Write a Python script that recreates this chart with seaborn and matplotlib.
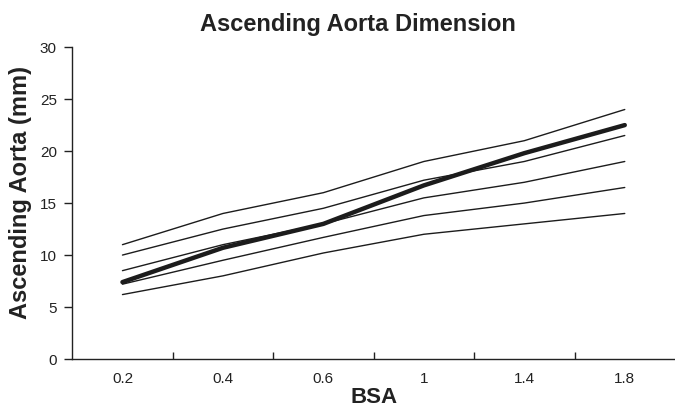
import seaborn as sns
import pandas as pd
import matplotlib.pyplot as plt
import numpy as np

#-----------------------------------------------------------------------------------------------------------------------
"""Data read off the chart"""
bsa_labels = ['0.2', '0.4', '0.6', '1', '1.4', '1.8']

line_top = [11.0, 14.0, 16.0, 19.0, 21.0, 24.0]
line_upper = [10.0, 12.5, 14.5, 17.2, 19.0, 21.5]
line_mean = [7.4, 10.7, 13.0, 16.7, 19.8, 22.5]
line_mid = [8.5, 11.0, 13.0, 15.5, 17.0, 19.0]
line_lower = [7.2, 9.5, 11.7, 13.8, 15.0, 16.5]
line_bottom = [6.2, 8.0, 10.2, 12.0, 13.0, 14.0]

thin_lines = {'top': line_top, 'upper': line_upper, 'mid': line_mid,
              'lower': line_lower, 'bottom': line_bottom}

#-----------------------------------------------------------------------------------------------------------------------
"""Building the DataFrame"""
pos = np.arange(len(bsa_labels))
df_thin = pd.concat([pd.DataFrame({'pos': pos, 'value': v, 'curve': k}) for k, v in thin_lines.items()])
df_mean = pd.DataFrame({'pos': pos, 'value': line_mean})

#-----------------------------------------------------------------------------------------------------------------------
"""Figure"""
sns.set_style('white')
plt.rcParams['font.family'] = ['Liberation Sans', 'DejaVu Sans']

fig = plt.figure(figsize=(6.75, 4.17), dpi=100)
ax = fig.add_axes([0.107, 0.139, 0.893, 0.748])

line_col = '#1c1c1c'
sns.lineplot(data=df_thin, x='pos', y='value', units='curve', estimator=None,
             color=line_col, linewidth=1.0, ax=ax)
sns.lineplot(data=df_mean, x='pos', y='value', color=line_col, linewidth=3.2,
             solid_capstyle='round', ax=ax)

#Limits
ax.set_xlim(-0.5, len(bsa_labels) - 0.5)
ax.set_ylim(0, 30)

#Ticks: labels in category centres, tick marks on the category boundaries
ax.set_xticks(pos)
ax.set_xticklabels(bsa_labels)
ax.set_xticks(pos[:-1] + 0.5, minor=True)
ax.tick_params(axis='x', which='both', bottom=True)
ax.tick_params(axis='x', which='major', length=0, pad=9, labelsize=11, labelcolor='#222222')
ax.tick_params(axis='x', which='minor', direction='in', length=5, width=1, color='#222222')
ax.set_yticks(range(0, 31, 5))
ax.tick_params(axis='y', left=True, direction='out', length=6, width=1, color='#222222',
               labelsize=11, labelcolor='#222222', pad=5)

#Spines
for s in ['top', 'right']:
    ax.spines[s].set_visible(False)
for s in ['left', 'bottom']:
    ax.spines[s].set_color('#222222')
    ax.spines[s].set_linewidth(1.0)

#Labels
ax.set_xlabel('BSA', fontsize=16, fontweight='bold', color='#222222', labelpad=1)
ax.set_ylabel('Ascending Aorta (mm)', fontsize=17, fontweight='bold', color='#222222')
ax.yaxis.set_label_coords(-0.066, 0.535)
fig.text(0.53, 0.942, 'Ascending Aorta Dimension', ha='center', va='center',
         fontsize=17, fontweight='bold', color='#222222')

fig.savefig('out.png', dpi=100)
